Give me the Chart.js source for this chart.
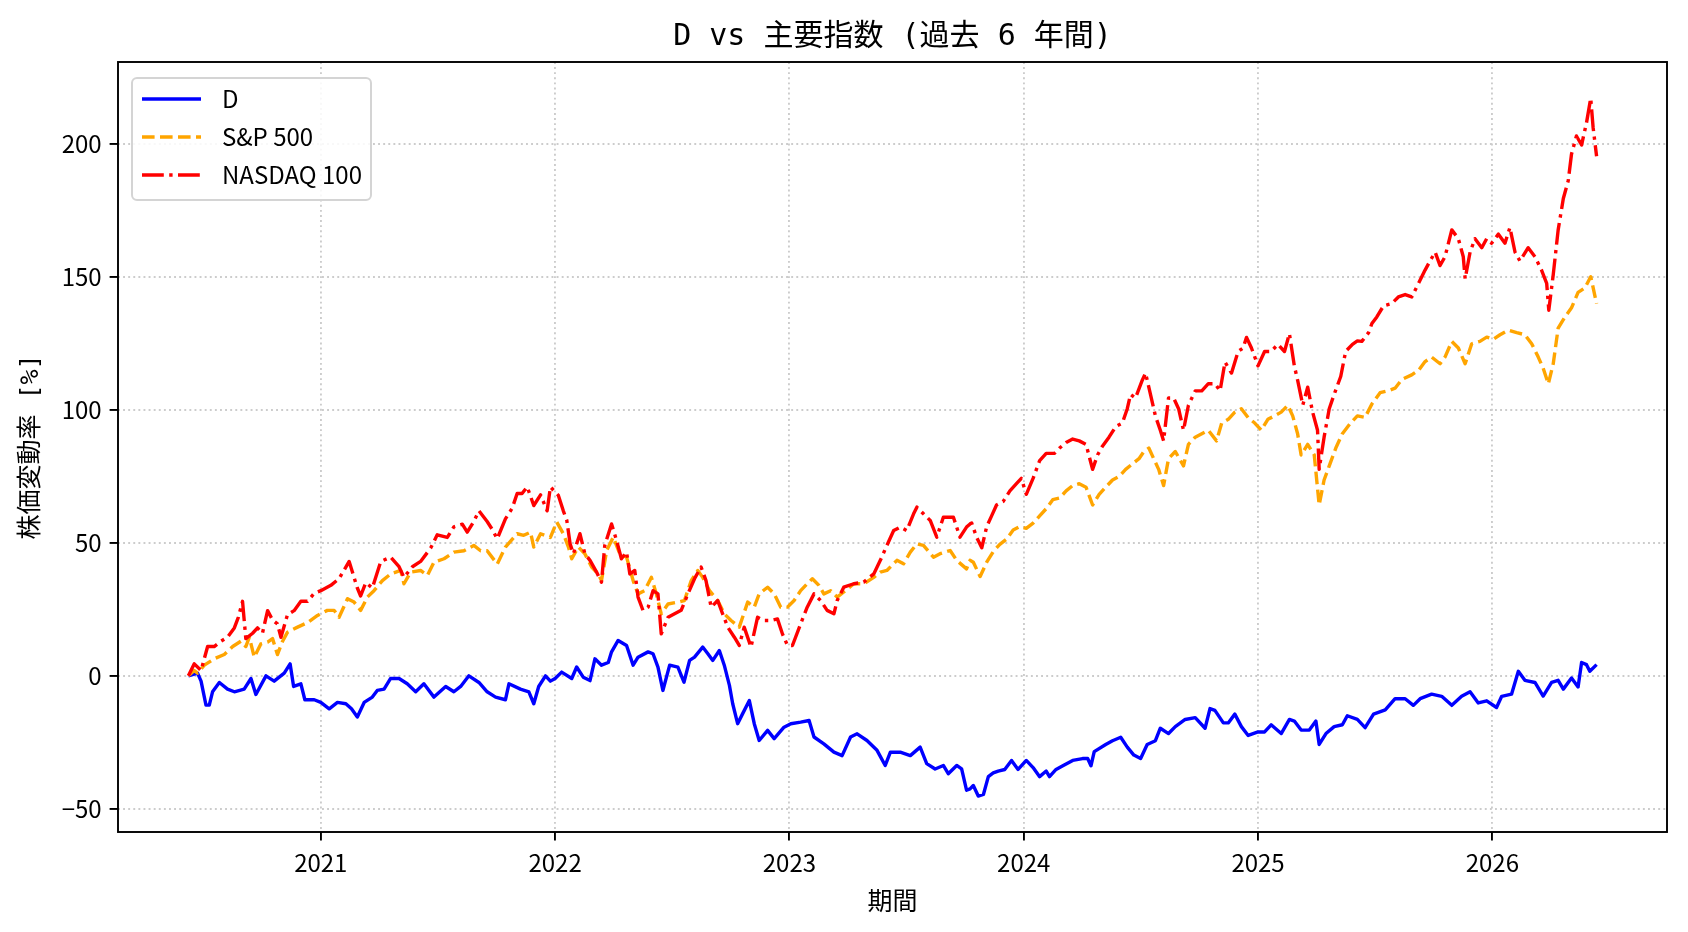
<!DOCTYPE html>
<html lang="ja">
<head>
<meta charset="utf-8">
<title>D vs 主要指数</title>
<script src="https://cdn.jsdelivr.net/npm/chart.js@4.4.1/dist/chart.umd.min.js"></script>
<style>
  html, body { margin: 0; padding: 0; background: #fff; }
  #wrap { width: 1688px; height: 932px; }
</style>
</head>
<body>
<div id="wrap"><canvas id="chart" width="1688" height="932"></canvas></div>
<script>
// Textos
const chartTitle = 'D vs 主要指数 (過去 6 年間)';
const xTitle = '期間';
const yTitle = '株価変動率 [%]';
const seriesNames = ['D', 'S&P 500', 'NASDAQ 100'];

// Ejes
const yearTicks = [2021, 2022, 2023, 2024, 2025, 2026];
const valueTicks = [-50, 0, 50, 100, 150, 200];

// Datos: [año, variación %]
const serieD = [
  [2020.435, 0], [2020.474, 1], [2020.489, -2], [2020.510, -11], [2020.524, -11], [2020.538, -6],
  [2020.567, -2.5], [2020.602, -5], [2020.631, -6], [2020.673, -5], [2020.702, -1], [2020.723, -7],
  [2020.766, 0], [2020.801, -2], [2020.844, 1], [2020.869, 4.5], [2020.884, -4], [2020.915, -3],
  [2020.932, -9], [2020.972, -9], [2021.000, -10], [2021.036, -12.4], [2021.071, -10], [2021.107, -10.5],
  [2021.131, -12.4], [2021.156, -15.5], [2021.185, -10], [2021.220, -8], [2021.241, -5.5], [2021.270, -5],
  [2021.298, -1], [2021.334, -1], [2021.369, -3], [2021.405, -6], [2021.440, -3], [2021.483, -8],
  [2021.533, -4], [2021.568, -6], [2021.597, -4], [2021.632, 0], [2021.675, -2.5], [2021.710, -6],
  [2021.746, -8], [2021.788, -9], [2021.803, -3], [2021.852, -5], [2021.888, -6], [2021.909, -10.5],
  [2021.930, -4], [2021.959, 0], [2021.980, -2],
  [2022.000, -1], [2022.028, 1.4], [2022.071, -1], [2022.092, 3.3], [2022.120, -0.5], [2022.149, -1.8],
  [2022.170, 6.4], [2022.198, 4], [2022.227, 5], [2022.241, 9], [2022.269, 13.3], [2022.305, 11.4],
  [2022.333, 4], [2022.354, 7], [2022.397, 9], [2022.418, 8.3], [2022.439, 3.3], [2022.460, -5.5],
  [2022.489, 4], [2022.524, 3.3], [2022.550, -2.4], [2022.574, 5.8], [2022.595, 7], [2022.630, 10.8],
  [2022.652, 8.3], [2022.673, 5.8], [2022.701, 9.5], [2022.722, 4], [2022.744, -3.6], [2022.758, -10.5],
  [2022.779, -18], [2022.800, -14.3], [2022.829, -9.3], [2022.850, -18], [2022.871, -24.3], [2022.907, -20.5],
  [2022.935, -23.6], [2022.977, -19.3], [2023.006, -18], [2023.048, -17.4], [2023.084, -16.8], [2023.105, -23],
  [2023.147, -25.6], [2023.190, -28.7], [2023.225, -30], [2023.261, -23], [2023.289, -21.8], [2023.331, -24.3],
  [2023.374, -28], [2023.409, -33.7], [2023.431, -28.7], [2023.473, -28.7], [2023.516, -30], [2023.558, -26.8],
  [2023.586, -33], [2023.622, -35], [2023.657, -33.7], [2023.678, -36.8], [2023.714, -33.7], [2023.735, -35],
  [2023.756, -43], [2023.771, -42.5],
  [2023.785, -41.2], [2023.806, -45.2], [2023.828, -44.6], [2023.849, -37.9], [2023.870, -36.5], [2023.891, -35.8],
  [2023.919, -35.2], [2023.948, -31.8], [2023.976, -35.2], [2024.011, -31.8], [2024.040, -34.5], [2024.068, -37.9],
  [2024.096, -35.8], [2024.110, -37.9], [2024.138, -35.2], [2024.167, -33.8], [2024.209, -31.8], [2024.251, -31.1],
  [2024.273, -31.1], [2024.287, -33.8], [2024.301, -28.5], [2024.350, -25.8], [2024.379, -24.4], [2024.414, -23.1],
  [2024.442, -26.8], [2024.470, -29.8], [2024.499, -31.1], [2024.527, -25.8], [2024.562, -24.4], [2024.583, -19.7],
  [2024.618, -21.7], [2024.647, -19.1], [2024.689, -16.4], [2024.732, -15.7], [2024.774, -19.7], [2024.795, -12.3],
  [2024.816, -13], [2024.852, -17.7], [2024.873, -17.7], [2024.901, -14.4], [2024.929, -19.1], [2024.958, -22.4],
  [2025.000, -21.1], [2025.028, -21.1], [2025.056, -18.4], [2025.099, -21.7], [2025.134, -16.4], [2025.155, -17],
  [2025.184, -20.4], [2025.219, -20.4], [2025.247, -17], [2025.261, -25.8], [2025.290, -21.7], [2025.325, -19.1],
  [2025.360, -18.4], [2025.381, -15], [2025.424, -16.4],
  [2025.457, -19.5], [2025.493, -14.4], [2025.543, -12.8], [2025.585, -8.6], [2025.628, -8.6], [2025.663, -11.1],
  [2025.692, -8.6], [2025.741, -6.9], [2025.784, -7.7], [2025.827, -11.1], [2025.869, -7.7], [2025.905, -6],
  [2025.940, -10.2], [2025.976, -9.4], [2026.018, -11.9], [2026.040, -7.7], [2026.082, -6.9], [2026.111, 1.7],
  [2026.139, -1.7], [2026.182, -2.5], [2026.217, -7.6], [2026.253, -2.5], [2026.281, -1.7], [2026.303, -5],
  [2026.338, -0.8], [2026.366, -4.2], [2026.381, 5], [2026.402, 4.2], [2026.416, 1.7], [2026.445, 4.2]
];

const serieSP = [
  [2020.435, 0], [2020.460, 2], [2020.474, 1], [2020.503, 4], [2020.545, 6.4], [2020.588, 8],
  [2020.624, 11], [2020.659, 13], [2020.680, 11], [2020.695, 14.5], [2020.716, 7], [2020.744, 12],
  [2020.773, 12.7], [2020.794, 14], [2020.815, 8], [2020.837, 13], [2020.858, 16.4], [2020.901, 18.3],
  [2020.943, 20], [2020.986, 22.7], [2021.028, 24.6], [2021.057, 24.6], [2021.078, 22], [2021.114, 29],
  [2021.142, 27.7], [2021.170, 24.6], [2021.199, 29.6], [2021.227, 32], [2021.263, 35.8], [2021.298, 38.3],
  [2021.341, 39.6], [2021.355, 34.6], [2021.384, 39], [2021.426, 39.6], [2021.455, 37.7], [2021.483, 42.7],
  [2021.526, 44], [2021.568, 46.5], [2021.611, 47], [2021.653, 49], [2021.682, 47], [2021.710, 47],
  [2021.753, 42], [2021.788, 48.4], [2021.838, 53.4], [2021.866, 52.8], [2021.895, 54], [2021.909, 48.4],
  [2021.938, 53.4], [2021.980, 52],
  [2022.007, 57.8], [2022.035, 53.4], [2022.057, 48.4], [2022.071, 44], [2022.099, 48.4], [2022.127, 45.9],
  [2022.156, 40.9], [2022.184, 38.3], [2022.198, 35.8], [2022.220, 47.1], [2022.248, 52.1], [2022.276, 45.9],
  [2022.305, 44.6], [2022.333, 35.8], [2022.354, 30.8], [2022.382, 32], [2022.411, 37], [2022.432, 30.8],
  [2022.453, 23.3], [2022.482, 27], [2022.524, 27.7], [2022.552, 28.3], [2022.581, 35.8], [2022.609, 39.6],
  [2022.630, 37], [2022.659, 32], [2022.694, 28.3], [2022.722, 23.3], [2022.751, 20.8], [2022.786, 18.3],
  [2022.822, 27.7], [2022.850, 25.8], [2022.871, 30.8], [2022.907, 33.3], [2022.935, 30.8], [2022.963, 25.8],
  [2022.992, 25.8], [2023.020, 28.3], [2023.048, 32], [2023.076, 34.6], [2023.098, 36.5], [2023.126, 34],
  [2023.147, 30.8], [2023.176, 32], [2023.204, 29.6], [2023.232, 31.5], [2023.275, 34.6], [2023.317, 34.6],
  [2023.360, 37], [2023.388, 39], [2023.416, 39.6], [2023.459, 43.4], [2023.487, 42.1], [2023.516, 46.5],
  [2023.544, 49.6], [2023.572, 49], [2023.615, 44.6], [2023.643, 45.9], [2023.686, 47.1], [2023.714, 43.4],
  [2023.756, 40.2], [2023.771, 43.4],
  [2023.785, 42.7], [2023.814, 37.3], [2023.842, 42.7], [2023.870, 46.7], [2023.898, 49.4], [2023.927, 51.4],
  [2023.955, 54.8], [2023.983, 56.1], [2024.011, 55.4], [2024.040, 57.4], [2024.068, 60.1], [2024.096, 62.8],
  [2024.124, 66.2], [2024.153, 66.8], [2024.181, 69.5], [2024.209, 71.5], [2024.237, 72.2], [2024.266, 70.9],
  [2024.294, 64.2], [2024.322, 68.2], [2024.350, 70.9], [2024.379, 73.6], [2024.407, 74.9], [2024.435, 77.6],
  [2024.463, 79.6], [2024.492, 81.6], [2024.513, 84.3], [2024.534, 85.6], [2024.555, 81.6], [2024.576, 77.6],
  [2024.597, 71.5], [2024.618, 81.6], [2024.647, 84.3], [2024.682, 78.9], [2024.703, 87], [2024.732, 89.7],
  [2024.760, 91], [2024.788, 92.3], [2024.823, 88.3], [2024.845, 95], [2024.873, 96.4], [2024.901, 99.1],
  [2024.929, 100.4], [2024.958, 97], [2024.986, 95], [2025.014, 92.3], [2025.042, 96.4], [2025.071, 97.7],
  [2025.099, 99.1], [2025.127, 101.7], [2025.148, 97.7], [2025.169, 91], [2025.184, 83], [2025.212, 87],
  [2025.240, 83], [2025.261, 64.2], [2025.282, 73.6], [2025.304, 78.9], [2025.332, 85.6], [2025.360, 91],
  [2025.395, 95], [2025.424, 97.7],
  [2025.457, 97.1], [2025.486, 102.2], [2025.521, 106.4], [2025.557, 107.2], [2025.585, 108.1], [2025.614, 111.4],
  [2025.656, 113.1], [2025.685, 114.8], [2025.713, 118.1], [2025.741, 119.8], [2025.777, 117.3], [2025.798, 119.8],
  [2025.827, 125.7], [2025.855, 123.2], [2025.884, 117.3], [2025.912, 124.8], [2025.947, 125.7], [2025.976, 127.3],
  [2026.004, 126.5], [2026.033, 128.2], [2026.068, 129.9], [2026.104, 129], [2026.139, 128.2], [2026.168, 124.8],
  [2026.196, 119.8], [2026.217, 115.6], [2026.239, 109.7], [2026.260, 117.3], [2026.281, 130.7], [2026.310, 134.9],
  [2026.338, 138.3], [2026.366, 144.1], [2026.395, 145.8], [2026.420, 150], [2026.445, 139.9]
];

const serieNQ = [
  [2020.435, 0], [2020.460, 4.5], [2020.489, 2], [2020.517, 11], [2020.545, 11], [2020.574, 13],
  [2020.602, 14.5], [2020.631, 18], [2020.648, 22], [2020.666, 28], [2020.680, 14], [2020.709, 16],
  [2020.730, 18], [2020.751, 16], [2020.773, 24.5], [2020.794, 21], [2020.815, 19.5], [2020.830, 14.5],
  [2020.858, 23], [2020.886, 24.5], [2020.915, 28], [2020.943, 28], [2020.972, 31], [2021.000, 32],
  [2021.043, 34], [2021.078, 36.5], [2021.121, 43], [2021.156, 33], [2021.170, 30], [2021.192, 35],
  [2021.220, 33], [2021.256, 43], [2021.298, 44.6], [2021.334, 41], [2021.355, 37], [2021.391, 41],
  [2021.426, 43], [2021.469, 48], [2021.497, 53], [2021.540, 52], [2021.568, 56], [2021.604, 57],
  [2021.625, 54], [2021.653, 58], [2021.675, 62], [2021.710, 58], [2021.732, 55], [2021.753, 51.5],
  [2021.788, 59], [2021.817, 63], [2021.838, 68.5], [2021.859, 68.5], [2021.881, 71], [2021.909, 64],
  [2021.938, 68], [2021.966, 62], [2021.980, 71],
  [2022.014, 67.8], [2022.035, 62], [2022.050, 58.4], [2022.064, 49.6], [2022.078, 45.9], [2022.106, 53.4],
  [2022.127, 45.9], [2022.149, 43.4], [2022.177, 39], [2022.198, 35.2], [2022.212, 49], [2022.241, 57.1],
  [2022.262, 51], [2022.283, 44], [2022.305, 46.5], [2022.319, 38.3], [2022.340, 39.6], [2022.354, 29.6],
  [2022.375, 24.6], [2022.397, 25.8], [2022.418, 32], [2022.439, 30.8], [2022.453, 15.8], [2022.482, 22],
  [2022.510, 23.3], [2022.538, 24.6], [2022.567, 30.8], [2022.595, 36.5], [2022.623, 40.9], [2022.644, 35.8],
  [2022.666, 25.8], [2022.694, 28.3], [2022.715, 23.3], [2022.737, 18.3], [2022.765, 14.5], [2022.786, 11.4],
  [2022.807, 18.3], [2022.836, 10.8], [2022.864, 22], [2022.892, 20.8], [2022.921, 20.8], [2022.949, 21.4],
  [2022.970, 15.8], [2022.992, 11.4], [2023.013, 11.4], [2023.048, 19.5], [2023.076, 25.8], [2023.105, 30.8],
  [2023.133, 28.3], [2023.161, 24.6], [2023.190, 23.3], [2023.204, 28.3], [2023.232, 33.3], [2023.275, 34.6],
  [2023.317, 35.2], [2023.360, 38.3], [2023.388, 43.4], [2023.416, 49], [2023.445, 54.6], [2023.473, 55.9],
  [2023.501, 54.6], [2023.530, 60.9], [2023.544, 63.4], [2023.572, 60.9], [2023.601, 58.4], [2023.629, 52.1],
  [2023.657, 59.6], [2023.700, 59.6], [2023.728, 52.1], [2023.756, 55.9], [2023.771, 57.1],
  [2023.778, 57.4], [2023.799, 52.1], [2023.821, 48.1], [2023.842, 56.1], [2023.863, 60.1], [2023.884, 64.2],
  [2023.912, 65.5], [2023.941, 69.5], [2023.969, 72.2], [2023.990, 74.2], [2024.011, 68.2], [2024.040, 74.2],
  [2024.068, 80.9], [2024.096, 83.6], [2024.131, 83.6], [2024.153, 85.6], [2024.181, 87.7], [2024.209, 89],
  [2024.237, 88.3], [2024.266, 87], [2024.294, 77.6], [2024.315, 83], [2024.336, 86.3], [2024.364, 89.7],
  [2024.393, 93.7], [2024.421, 95], [2024.442, 100.4], [2024.456, 105.8], [2024.477, 104.4], [2024.506, 111.1],
  [2024.520, 113.8], [2024.541, 105.8], [2024.562, 97.7], [2024.583, 92.3], [2024.597, 88.3], [2024.618, 104.4],
  [2024.640, 104.4], [2024.661, 100.4], [2024.682, 92.3], [2024.703, 101.7], [2024.732, 107.1], [2024.760, 107.1],
  [2024.788, 109.8], [2024.816, 109.8], [2024.838, 107.1], [2024.859, 117.9], [2024.887, 113.8], [2024.915, 121.9],
  [2024.936, 123.2], [2024.951, 127.2], [2024.972, 123.2], [2025.000, 116.5], [2025.028, 121.9], [2025.056, 121.9],
  [2025.085, 124.6], [2025.113, 121.9], [2025.134, 128.6], [2025.155, 116.5], [2025.169, 111.1], [2025.191, 101.7],
  [2025.212, 108.5], [2025.233, 99.1], [2025.254, 92.3], [2025.261, 77.6], [2025.282, 89.7], [2025.304, 100.4],
  [2025.325, 105.8], [2025.353, 112.5], [2025.374, 121.9], [2025.403, 124.6], [2025.424, 125.9],
  [2025.443, 125.7], [2025.472, 129], [2025.486, 132.4], [2025.507, 134.9], [2025.536, 139.1], [2025.571, 139.9],
  [2025.599, 142.4], [2025.628, 143.3], [2025.656, 142.4], [2025.685, 147.5], [2025.713, 152.5], [2025.734, 155.9],
  [2025.756, 159.2], [2025.777, 154.2], [2025.798, 157.5], [2025.827, 167.6], [2025.855, 164.3], [2025.876, 157.5],
  [2025.884, 149.2], [2025.905, 159.2], [2025.926, 164.3], [2025.955, 160.9], [2025.976, 164.3], [2025.997, 162.6],
  [2026.026, 166], [2026.054, 162.6], [2026.075, 168.5], [2026.097, 159.2], [2026.118, 155.9], [2026.153, 160.9],
  [2026.182, 157.5], [2026.210, 152.5], [2026.232, 147.5], [2026.241, 137.4], [2026.260, 150.8], [2026.281, 167.6],
  [2026.303, 179.4], [2026.324, 186.1], [2026.338, 196.1], [2026.359, 202.9], [2026.381, 199.5], [2026.402, 207.9],
  [2026.420, 217.1], [2026.430, 206.2], [2026.445, 195.3]
];

const fontJP = '"Noto Sans CJK JP", "Noto Sans", sans-serif';
// Latín de ancho fijo + kanji, para imitar la fuente gótica japonesa
const fontMixta = '"DejaVu Sans Mono", "Noto Sans CJK JP", sans-serif';
const toPoints = serie => serie.map(p => ({ x: p[0], y: p[1] }));
const conMenos = v => String(v).replace('-', '\u2212');

// Marco negro alrededor del área (como los "spines" de matplotlib)
const marco = {
  id: 'marco',
  afterDatasetsDraw(chart) {
    const { ctx, chartArea: a } = chart;
    ctx.save();
    ctx.strokeStyle = '#000';
    ctx.lineWidth = 1.9;
    ctx.strokeRect(a.left, a.top, a.right - a.left, a.bottom - a.top);
    ctx.restore();
  }
};

// Leyenda dentro del área, arriba a la izquierda
const leyenda = {
  id: 'leyenda',
  afterDraw(chart) {
    const { ctx, chartArea: a } = chart;
    const x = a.left + 14, y = a.top + 16, w = 239, h = 122;
    ctx.save();
    ctx.beginPath();
    ctx.roundRect(x, y, w, h, 5);
    ctx.fillStyle = 'rgba(255,255,255,0.85)';
    ctx.fill();
    ctx.strokeStyle = '#d4d4d4';
    ctx.lineWidth = 2;
    ctx.stroke();
    chart.data.datasets.forEach((ds, i) => {
      const cy = y + 21 + i * 38;
      ctx.beginPath();
      ctx.setLineDash(ds.borderDash || []);
      ctx.strokeStyle = ds.borderColor;
      ctx.lineWidth = ds.borderWidth;
      ctx.moveTo(x + 10, cy);
      ctx.lineTo(x + 69, cy);
      ctx.stroke();
      ctx.setLineDash([]);
      ctx.fillStyle = '#000';
      ctx.font = '24px ' + fontJP;
      ctx.textBaseline = 'middle';
      ctx.textAlign = 'left';
      ctx.fillText(ds.label, x + 90, cy);
    });
    ctx.restore();
  }
};

const config = {
  type: 'line',
  data: {
    datasets: [
      {
        label: seriesNames[0],
        data: toPoints(serieD),
        borderColor: '#0000ff',
        borderWidth: 3.4,
        order: 2
      },
      {
        label: seriesNames[1],
        data: toPoints(serieSP),
        borderColor: '#ffa500',
        borderWidth: 3.4,
        borderDash: [12.6, 5.4],
        order: 1
      },
      {
        label: seriesNames[2],
        data: toPoints(serieNQ),
        borderColor: '#ff0000',
        borderWidth: 3.4,
        borderDash: [21.8, 5.4, 3.4, 5.4],
        order: 0
      }
    ]
  },
  options: {
    responsive: false,
    animation: false,
    devicePixelRatio: 1,
    layout: { padding: { left: 0, right: 21, top: 0, bottom: 0 } },
    elements: {
      point: { radius: 0 },
      line: { tension: 0, fill: false, borderCapStyle: 'butt', borderJoinStyle: 'round' }
    },
    plugins: {
      legend: { display: false },
      tooltip: { enabled: false },
      title: {
        display: true,
        text: chartTitle,
        fullSize: false,
        color: '#000',
        font: { family: fontMixta, size: 30, weight: 'normal', lineHeight: 1.2 },
        padding: { top: 19, bottom: 7 }
      }
    },
    scales: {
      x: {
        type: 'linear',
        min: 2020.1345,
        max: 2026.7455,
        afterBuildTicks: scale => { scale.ticks = yearTicks.map(v => ({ value: v })); },
        afterFit: scale => { scale.height = 100; },
        ticks: {
          color: '#000',
          padding: 8,
          maxRotation: 0,
          font: { family: fontJP, size: 24 },
          callback: v => String(v)
        },
        grid: { color: '#cccccc', lineWidth: 1.9, tickColor: '#000', tickLength: 8.4, tickWidth: 1.9 },
        border: { display: false, dash: [1.9, 3.2] },
        title: {
          display: true,
          text: xTitle,
          color: '#000',
          font: { family: fontJP, size: 25, lineHeight: 1.2 },
          padding: { top: 0, bottom: 17 }
        }
      },
      y: {
        type: 'linear',
        min: -58.7,
        max: 230.7,
        afterBuildTicks: scale => { scale.ticks = valueTicks.map(v => ({ value: v })); },
        afterFit: scale => { scale.width = 118; },
        ticks: {
          color: '#000',
          padding: 8,
          font: { family: fontJP, size: 24 },
          callback: v => conMenos(v)
        },
        grid: { color: '#cccccc', lineWidth: 1.9, tickColor: '#000', tickLength: 8.4, tickWidth: 1.9 },
        border: { display: false, dash: [1.9, 3.2] },
        title: {
          display: true,
          text: yTitle,
          color: '#000',
          font: { family: fontMixta, size: 25, lineHeight: 1.2 },
          padding: { top: 16, bottom: 0 }
        }
      }
    }
  },
  plugins: [marco, leyenda]
};

const ctx = document.getElementById('chart').getContext('2d');
const grafico = new Chart(ctx, config);
</script>
</body>
</html>
